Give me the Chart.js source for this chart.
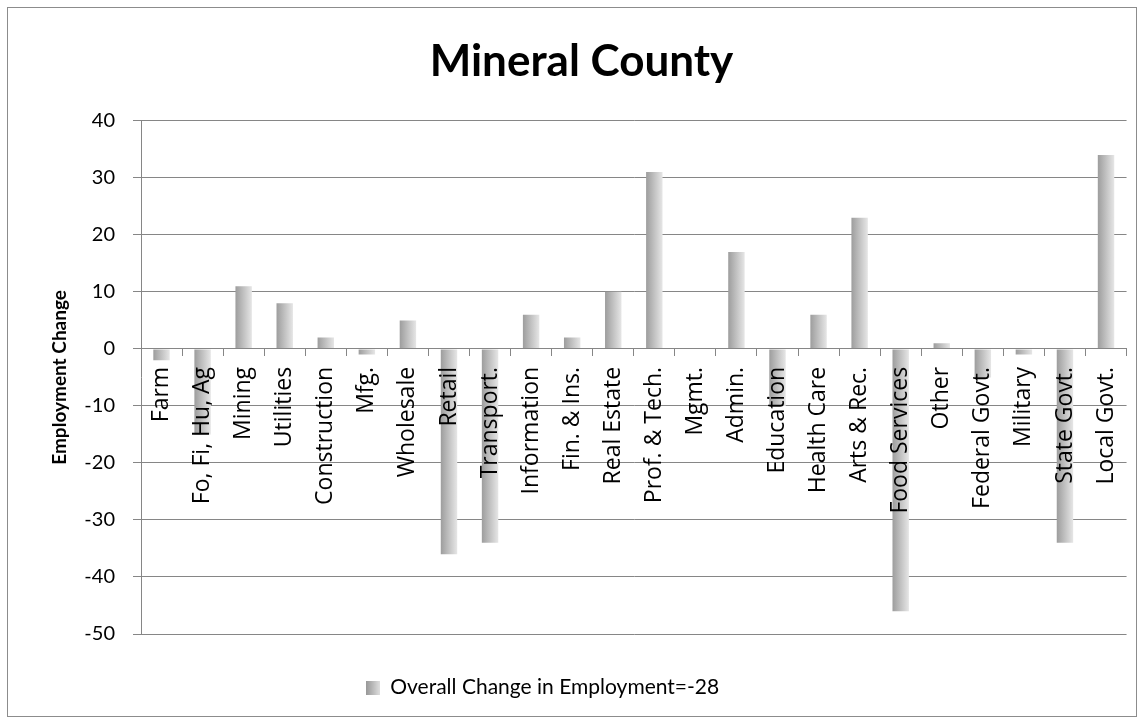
<!DOCTYPE html>
<html>
<head>
<meta charset="utf-8">
<title>Mineral County</title>
<script src="https://cdn.jsdelivr.net/npm/chart.js@4.4.1/dist/chart.umd.min.js"></script>
<style>
  html, body { margin: 0; padding: 0; background: #fff; }
  #wrap { width: 1145px; height: 724px; }
</style>
</head>
<body>
<div id="wrap"><canvas id="employmentChart" width="1145" height="724"></canvas></div>
<script>
// categories and values
const categories = [
  "Farm", "Fo, Fi, Hu, Ag", "Mining", "Utilities", "Construction", "Mfg.",
  "Wholesale", "Retail", "Transport.", "Information", "Fin. & Ins.", "Real Estate",
  "Prof. & Tech.", "Mgmt.", "Admin.", "Education", "Health Care", "Arts & Rec.",
  "Food Services", "Other", "Federal Govt.", "Military", "State Govt.", "Local Govt."
];
const employmentChange = [
  -2, -15, 11, 8, 2, -1,
  5, -36, -34, 6, 2, 10,
  31, 0, 17, -10, 6, 23,
  -46, 1, -5, -1, -34, 34
];
const seriesLabel = "Overall Change in Employment=-28";
const yTicks = [-50, -40, -30, -20, -10, 0, 10, 20, 30, 40];

const gridGrey = "#868686";
const barWidthShare = 0.4;

// little swatch for the legend (dark left -> light right)
const swatch = document.createElement("canvas");
swatch.width = 14; swatch.height = 14;
(function () {
  const sctx = swatch.getContext("2d");
  const g = sctx.createLinearGradient(0, 0, 14, 0);
  g.addColorStop(0, "#979797");
  g.addColorStop(1, "#dedede");
  sctx.fillStyle = g;
  sctx.fillRect(0, 0, 14, 14);
})();

// each bar gets its own horizontal gradient, placed from the x scale
const barFill = (c) => {
  const chart = c.chart;
  const xs = chart.scales && chart.scales.x;
  if (!chart.chartArea || !xs || c.dataIndex === undefined) return "#c4c4c4";
  const cx = xs.getPixelForValue(c.dataIndex);
  const w = (xs.width / categories.length) * barWidthShare;
  const g = chart.ctx.createLinearGradient(cx - w / 2, 0, cx + w / 2, 0);
  g.addColorStop(0, "#9d9d9d");
  g.addColorStop(1, "#e6e6e6");
  return g;
};

// outer frame + nudge title/legend the way excel centred them
const framePlugin = {
  id: "frame",
  afterLayout(chart) {
    if (chart.titleBlock) { chart.titleBlock.left += 18; chart.titleBlock.right += 18; }
    if (chart.legend) { chart.legend.left -= 21; chart.legend.right -= 21; }
  },
  beforeDraw(chart) {
    const ctx = chart.ctx;
    ctx.save();
    ctx.fillStyle = "#fff";
    ctx.fillRect(0, 0, chart.width, chart.height);
    ctx.strokeStyle = "#8c8c8c";
    ctx.lineWidth = 1;
    ctx.strokeRect(7.5, 7.5, 1129, 709);
    ctx.restore();
  }
};

new Chart(document.getElementById("employmentChart"), {
  type: "bar",
  data: {
    labels: categories,
    datasets: [{
      label: seriesLabel,
      data: employmentChange,
      backgroundColor: barFill,
      borderWidth: 0,
      barPercentage: barWidthShare,
      categoryPercentage: 1
    }]
  },
  options: {
    responsive: false,
    animation: false,
    events: [],
    layout: { padding: { left: 0, right: 18, top: 0, bottom: 16 } },
    scales: {
      x: {
        position: { y: 0 },
        offset: true,
        grid: {
          offset: true,
          drawOnChartArea: false,
          drawTicks: true,
          tickLength: 7,
          color: gridGrey
        },
        border: { display: true, color: gridGrey, width: 1, z: 1 },
        ticks: {
          z: 1, // labels sit on top of the bars like excel
          autoSkip: false,
          minRotation: 90,
          maxRotation: 90,
          padding: 11,
          color: "#000",
          font: { family: "'Open Sans', sans-serif", size: 23 }
        }
      },
      y: {
        min: -50,
        max: 40,
        afterFit: (scale) => { scale.width = 141; },
        afterBuildTicks: (scale) => { scale.ticks = yTicks.map(v => ({ value: v })); },
        grid: { color: gridGrey, tickLength: 8, lineWidth: 1 },
        border: { display: true, color: gridGrey },
        ticks: {
          padding: 18,
          color: "#000",
          font: { family: "Lato, sans-serif", size: 20 }
        },
        title: {
          display: true,
          text: "Employment Change",
          color: "#000",
          padding: { top: 48, bottom: 0 },
          font: { family: "Lato, sans-serif", size: 19, weight: "bold" }
        }
      }
    },
    plugins: {
      title: {
        display: true,
        text: "Mineral County",
        color: "#000",
        padding: { top: 35, bottom: 33 },
        font: { family: "Lato, sans-serif", size: 44, weight: "bold" }
      },
      legend: {
        position: "bottom",
        labels: {
          usePointStyle: true,
          boxWidth: 14,
          boxHeight: 14,
          padding: 43,
          color: "#000",
          font: { family: "Lato, sans-serif", size: 21 },
          generateLabels: () => [{
            text: seriesLabel,
            pointStyle: swatch,
            fillStyle: "#c4c4c4",
            strokeStyle: "transparent",
            lineWidth: 0,
            hidden: false,
            datasetIndex: 0
          }]
        }
      },
      tooltip: { enabled: false }
    }
  },
  plugins: [framePlugin]
});
</script>
</body>
</html>
